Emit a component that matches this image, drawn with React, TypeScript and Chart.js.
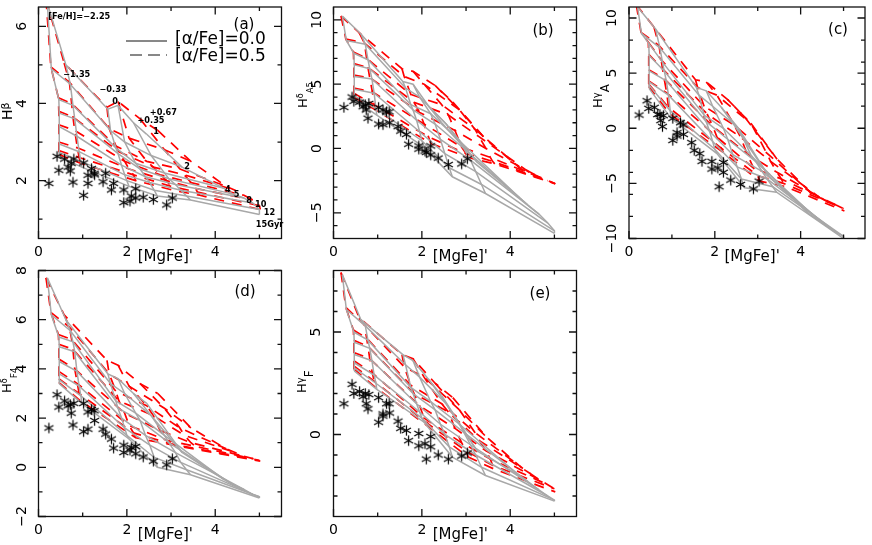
import React, { useEffect, useRef } from "react";
import { Chart, registerables } from "chart.js";

Chart.register(...registerables);

const FONT = '"DejaVu Sans"';
const GRAY = "#a8a8a8";
const RED = "#ff0000";

// [MgFe]' of every model node. One row per age (1,2,4,5,8,10,12,15 Gyr), one column per [Fe/H].
const xSolid = [
  [0.2, 0.62, 1.57, 1.8, 2.15, 2.45],
  [0.29, 0.72, 1.63, 1.95, 2.55, 3.25],
  [0.46, 0.78, 1.75, 2.2, 2.85, 4.2],
  [0.47, 0.82, 1.8, 2.3, 2.95, 4.4],
  [0.47, 0.87, 1.88, 2.42, 3.1, 4.65],
  [0.47, 0.92, 1.95, 2.52, 3.22, 4.85],
  [0.47, 0.96, 2.0, 2.62, 3.35, 5.0],
  [0.47, 0.98, 2.05, 2.69, 3.44, 5.0],
];
const xDash = [
  [0.17, 0.58, 1.55, 1.8, 2.3, 2.7],
  [0.28, 0.7, 1.6, 2.05, 2.85, 3.45],
  [0.45, 0.75, 1.75, 2.45, 3.2, 4.25],
  [0.46, 0.78, 1.82, 2.6, 3.3, 4.45],
  [0.46, 0.82, 1.95, 2.75, 3.45, 4.65],
  [0.46, 0.88, 2.05, 2.9, 3.55, 4.85],
  [0.46, 0.92, 2.15, 3.0, 3.6, 5.0],
  [0.46, 0.95, 2.2, 3.05, 3.65, 5.02],
];

const aSolid = [
  [6.6, 5.0, 3.85, 3.95, 3.5, 3.2],
  [4.9, 4.5, 3.3, 3.0, 2.65, 2.35],
  [4.1, 3.95, 2.85, 2.45, 2.2, 1.8],
  [3.75, 3.6, 2.7, 2.3, 2.05, 1.65],
  [3.4, 3.15, 2.4, 2.1, 1.9, 1.55],
  [2.95, 2.75, 2.15, 1.95, 1.75, 1.42],
  [2.73, 2.5, 2.0, 1.75, 1.6, 1.25],
  [2.62, 2.35, 1.85, 1.6, 1.5, 1.12],
];
const aDash = [
  [6.7, 5.05, 3.9, 4.05, 3.6, 3.3],
  [4.95, 4.55, 3.35, 3.1, 2.8, 2.5],
  [4.15, 4.0, 2.9, 2.5, 2.3, 1.85],
  [3.8, 3.65, 2.75, 2.35, 2.15, 1.75],
  [3.45, 3.3, 2.5, 2.15, 1.95, 1.62],
  [3.0, 2.85, 2.3, 2.0, 1.8, 1.5],
  [2.78, 2.6, 2.15, 1.85, 1.7, 1.35],
  [2.68, 2.45, 2.0, 1.75, 1.62, 1.25],
];
const bSolid = [
  [10.3, 8.9, 5.2, 5.0, 3.3, 2.0],
  [8.4, 8.1, 4.7, 4.0, 1.9, -1.06],
  [7.4, 6.9, 3.4, 2.7, 0.6, -3.8],
  [6.5, 6.2, 3.0, 1.9, 0, -4.4],
  [5.6, 5.4, 2.2, 0.7, -0.9, -5.1],
  [4.6, 4.3, 1.3, -0.4, -1.8, -5.8],
  [4.1, 3.1, 0.6, -1.5, -2.8, -6.4],
  [3.8, 2.6, 0.1, -2.2, -3.5, -6.6],
];
const bDash = [
  [10.3, 9.0, 6.2, 6.0, 4.9, 3.6],
  [8.5, 8.2, 5.6, 5.0, 3.0, 0.7],
  [7.5, 7.0, 4.2, 3.4, 1.5, -1.6],
  [6.6, 6.3, 3.6, 2.6, 0.9, -1.9],
  [5.7, 5.5, 2.8, 1.4, 0, -2.2],
  [4.7, 4.4, 1.9, 0.1, -0.7, -2.5],
  [4.3, 3.4, 0.9, -0.4, -1.0, -2.7],
  [4.0, 3.0, 0.4, -0.7, -1.2, -2.75],
];
const cSolid = [
  [11, 9.0, 3.7, 3.4, 1.9, 0.3],
  [8.6, 7.3, 3.0, 2.0, 0, -4.3],
  [7.7, 6.0, 1.2, 0, -2.5, -7.8],
  [6.6, 5.2, 0.6, -1, -3, -8.3],
  [5.2, 4.3, -0.3, -2.4, -3.9, -9],
  [4.2, 3, -1.2, -3.5, -4.6, -9.5],
  [3.9, 1.6, -1.9, -4.6, -5.3, -9.8],
  [3.6, 0.9, -2.3, -5.4, -5.8, -10],
];
const cDash = [
  [11.2, 9.2, 4.4, 4.2, 2.6, 1.0],
  [8.7, 7.5, 3.7, 3.0, 0.4, -2.8],
  [7.8, 6.2, 2.0, 0.3, -2.2, -5.9],
  [6.7, 5.4, 1.3, -0.8, -3, -6.3],
  [5.3, 4.5, 0.2, -2.3, -4, -6.7],
  [4.3, 3.2, -0.8, -3.6, -4.6, -7],
  [4.0, 1.9, -1.8, -4.3, -5, -7.3],
  [3.8, 1.3, -2.2, -4.8, -5.3, -7.5],
];
const dSolid = [
  [7.7, 6.0, 3.8, 3.6, 3.0, 2.6],
  [6.2, 5.55, 3.4, 3.0, 2.1, 0.6],
  [5.3, 5.1, 2.7, 2.2, 1.3, -0.5],
  [4.9, 4.7, 2.4, 1.9, 1, -0.7],
  [4.3, 3.9, 2, 1.3, 0.6, -0.9],
  [3.8, 3.3, 1.6, 0.9, 0.2, -1.1],
  [3.55, 2.9, 1.3, 0.4, -0.1, -1.2],
  [3.4, 2.6, 1.15, 0, -0.3, -1.25],
];
const dDash = [
  [7.7, 6.2, 4.35, 4.15, 3.4, 3.0],
  [6.3, 5.7, 3.8, 3.3, 2.4, 1.6],
  [5.4, 5.2, 3.1, 2.5, 1.6, 0.75],
  [5, 4.8, 2.7, 2.1, 1.3, 0.6],
  [4.4, 4, 2.2, 1.5, 1.0, 0.45],
  [3.9, 3.4, 1.7, 1.1, 0.85, 0.35],
  [3.6, 3, 1.4, 0.95, 0.75, 0.28],
  [3.45, 2.7, 1.2, 0.9, 0.7, 0.25],
];
const eSolid = [
  [7.8, 5.6, 3.9, 3.6, 2.7, 1.9],
  [6.1, 5.3, 3.4, 2.8, 1.5, -0.8],
  [5, 4.6, 2.3, 1.6, 0.5, -2],
  [4.5, 4.2, 2, 1.2, 0.1, -2.3],
  [3.9, 3.6, 1.5, 0.5, -0.5, -2.7],
  [3.5, 2.9, 1.1, 0, -1, -3],
  [3.25, 2.5, 0.8, -0.6, -1.6, -3.2],
  [3.1, 2.2, 0.6, -1.1, -2, -3.25],
];
const eDash = [
  [7.9, 5.7, 3.9, 3.7, 2.5, 1.8],
  [6.2, 5.35, 3.3, 2.8, 1.2, -0.1],
  [5.1, 4.7, 2.4, 1.5, 0.1, -1.6],
  [4.6, 4.3, 2, 1.1, -0.3, -1.9],
  [4, 3.7, 1.4, 0.3, -0.8, -2.2],
  [3.6, 3, 0.8, -0.4, -1.2, -2.45],
  [3.35, 2.6, 0.5, -0.8, -1.5, -2.65],
  [3.2, 2.3, 0.3, -1.1, -1.7, -2.8],
];

// Observed clusters
const starX = [0.235, 0.42, 0.46, 0.59, 0.67, 0.72, 0.74, 0.78, 0.8, 1.02, 1.02, 1.12, 1.12, 1.2, 1.26, 1.27, 1.46, 1.52, 1.65, 1.7, 1.93, 1.93, 2.07, 2.1, 2.2, 2.2, 2.37, 2.6, 2.9, 3.03];
const starA = [1.93, 2.63, 2.27, 2.56, 2.35, 2.25, 2.45, 1.96, 2.56, 2.46, 1.62, 1.93, 2.14, 2.31, 2.19, 2.15, 1.97, 2.19, 1.76, 1.93, 1.76, 1.43, 1.47, 1.6, 1.79, 1.55, 1.57, 1.51, 1.37, 1.55];
const starB = [3.2, 4.0, 3.67, 3.6, 3.25, 3.4, 3.0, 2.35, 3.5, 3.2, 1.9, 1.85, 3.0, 2.85, 2.85, 2.0, 1.7, 1.35, 1.1, 0.33, 0.2, -0.05, -0.2, -0.3, 0.2, -0.5, -0.75, -1.25, -1.2, -0.8];
const starC = [1.2, 2.5, 1.8, 1.9, 1.25, 1.25, 0.7, 0.15, 1.15, 0.9, -1.1, -0.7, -0.4, 0.5, 0.3, -0.55, -1.3, -2, -2.3, -3, -3, -3.7, -3.6, -5.3, -3.1, -4, -4.7, -5.1, -5.5, -4.8];
const starD = [1.6, 2.95, 2.45, 2.7, 2.5, 2.55, 2.2, 1.72, 2.6, 2.6, 1.45, 1.55, 2.25, 2.35, 2.3, 1.9, 1.55, 1.35, 1.15, 0.78, 0.9, 0.6, 0.7, 0.8, 0.85, 0.55, 0.42, 0.25, 0.1, 0.35];
const starE = [1.5, 2.45, 2.0, 2.1, 1.85, 2, 1.5, 1.25, 1.95, 1.8, 0.6, 0.9, 1.0, 1.5, 1.5, 1.05, 0.65, 0.3, 0.2, -0.3, 0.05, -0.55, -0.45, -1.2, -0.1, -0.6, -1.0, -1.2, -1.05, -0.9];

const xMajor = [0, 2, 4];
const xMinor = [1, 3, 5];

const gridNotes = ["[Fe/H]=\u22122.25", "\u22121.35", "\u22120.33", "0.", "+0.67", "+0.35", "1", "2", "4", "5", "8", "10", "12", "15Gyr"];
const gridNoteX = [0.22, 0.56, 1.38, 1.67, 2.52, 2.24, 2.6, 3.3, 4.22, 4.42, 4.7, 4.9, 5.1, 4.92];
const gridNoteY = [6.24, 4.75, 4.35, 4.05, 3.76, 3.55, 3.26, 2.35, 1.77, 1.62, 1.47, 1.37, 1.17, 0.86];

const legendSolid = "[\u03b1/Fe]=0.0";
const legendDash = "[\u03b1/Fe]=0.5";

type Seg = { t: string; size: number; dy: number };

const panels = [
  {
    id: "(a)", ySolid: aSolid, yDash: aDash, stars: starA, min: 0.5, max: 6.5,
    yMajor: [2, 4, 6], yMinor: [1, 3, 5], left: 0, top: 0, w: 290, h: 268, yW: 38.5, padTop: 1.5, padRight: 8.5, xH: 29.5, tickPad: 11.5,
    tagX: 244, tagY: 25, titleX: 12, titleY: 120,
    title: [{ t: "H", size: 14, dy: 0 }, { t: "\u03b2", size: 11, dy: -3 }] as Seg[],
  },
  {
    id: "(b)", ySolid: bSolid, yDash: bDash, stars: starB, min: -7, max: 11,
    yMajor: [-5, 0, 5, 10], yMinor: [-6, -4, -3, -2, -1, 1, 2, 3, 4, 6, 7, 8, 9], left: 295, top: 0, w: 290, h: 268, yW: 38.5, padTop: 1.5, padRight: 8.5, xH: 29.5, tickPad: 6.2,
    tagX: 543, tagY: 31, titleX: 307, titleY: 108,
    title: [{ t: "H", size: 13, dy: 0 }, { t: "\u03b4", size: 8, dy: -4 }, { t: "A", size: 8.5, dy: 6 }, { t: "5", size: 8.5, dy: 6 }] as Seg[],
  },
  {
    id: "(c)", ySolid: cSolid, yDash: cDash, stars: starC, min: -10, max: 11,
    yMajor: [-10, -5, 0, 5, 10], yMinor: [-8, -6, -4, -2, 2, 4, 6, 8], left: 591, top: 0, w: 281, h: 268, yW: 38, padTop: 1.5, padRight: 1, xH: 29.5, tickPad: 2.3,
    tagX: 838, tagY: 30, titleX: 602, titleY: 108,
    title: [{ t: "H", size: 13, dy: 0 }, { t: "\u03b3", size: 10, dy: -2 }, { t: "A", size: 12, dy: 7 }] as Seg[],
  },
  {
    id: "(d)", ySolid: dSolid, yDash: dDash, stars: starD, min: -2, max: 8,
    yMajor: [-2, 0, 2, 4, 6, 8], yMinor: [-1, 1, 3, 5, 7], left: 0, top: 262, w: 290, h: 283, yW: 38.5, padTop: 8.5, padRight: 8.5, xH: 28.5, tickPad: 6.2,
    tagX: 245, tagY: 292, titleX: 11, titleY: 393,
    title: [{ t: "H", size: 13, dy: 0 }, { t: "\u03b4", size: 8, dy: -4 }, { t: "F", size: 9, dy: 6 }, { t: "4", size: 9, dy: 6 }] as Seg[],
  },
  {
    id: "(e)", ySolid: eSolid, yDash: eDash, stars: starE, min: -4, max: 8,
    yMajor: [0, 5], yMinor: [-3, -2, -1, 1, 2, 3, 4, 6, 7], left: 295, top: 262, w: 290, h: 283, yW: 38.5, padTop: 8.5, padRight: 8.5, xH: 28.5, tickPad: 12.3,
    tagX: 540, tagY: 294, titleX: 306, titleY: 393,
    title: [{ t: "H", size: 13, dy: 0 }, { t: "\u03b3", size: 10, dy: -2 }, { t: "F", size: 12, dy: 7 }] as Seg[],
  },
];

function asterisk(): HTMLCanvasElement {
  const c = document.createElement("canvas");
  c.width = 13;
  c.height = 13;
  const g = c.getContext("2d")!;
  g.strokeStyle = "#000";
  g.lineWidth = 1.2;
  g.lineCap = "butt";
  for (let k = 0; k < 3; k++) {
    const a = Math.PI / 2 + (k * Math.PI) / 3;
    g.beginPath();
    g.moveTo(6.5 - 5.2 * Math.cos(a), 6.5 - 5.2 * Math.sin(a));
    g.lineTo(6.5 + 5.2 * Math.cos(a), 6.5 + 5.2 * Math.sin(a));
    g.stroke();
  }
  return c;
}

function gridLines(xs: number[][], ys: number[][], color: string, width: number, dash: number[]) {
  const base = { showLine: true, borderColor: color, borderWidth: width, borderDash: dash, pointRadius: 0, tension: 0, fill: false };
  const out: any[] = [];
  xs.forEach((row, r) => out.push({ ...base, data: row.map((x, c) => ({ x, y: ys[r][c] })) }));
  xs[0].forEach((_, c) => out.push({ ...base, data: xs.map((row, r) => ({ x: row[c], y: ys[r][c] })) }));
  return out;
}

function Panel({ p, index }: { p: (typeof panels)[number]; index: number }) {
  const ref = useRef<HTMLCanvasElement>(null);
  useEffect(() => {
    const overlay = {
      id: "frame",
      afterDraw(chart: any) {
        const g = chart.ctx;
        const { left, right, top, bottom } = chart.chartArea;
        const sx = chart.scales.x;
        const sy = chart.scales.y;
        const ox = p.left;
        const oy = p.top;
        g.save();
        g.strokeStyle = "#111";
        g.fillStyle = "#000";
        g.lineWidth = 1.3;
        g.strokeRect(left, top, right - left, bottom - top);
        const vt = (v: number, len: number) => {
          const px = sx.getPixelForValue(v);
          g.beginPath();
          g.moveTo(px, bottom);
          g.lineTo(px, bottom - len);
          g.moveTo(px, top);
          g.lineTo(px, top + len);
          g.stroke();
        };
        const ht = (v: number, len: number) => {
          const py = sy.getPixelForValue(v);
          g.beginPath();
          g.moveTo(left, py);
          g.lineTo(left + len, py);
          g.moveTo(right, py);
          g.lineTo(right - len, py);
          g.stroke();
        };
        xMajor.forEach((v) => vt(v, 7.5));
        xMinor.forEach((v) => vt(v, 4));
        p.yMajor.forEach((v) => ht(v, 7.5));
        p.yMinor.forEach((v) => ht(v, 4));

        // panel tag
        g.textAlign = "center";
        g.textBaseline = "middle";
        g.font = `15px ${FONT}`;
        g.fillText(p.id, p.tagX - ox, p.tagY - oy);

        // x title
        const xTitleCenter = sx.getPixelForValue(2.87);
        g.font = `15px ${FONT}`;
        g.fillText("[MgFe]'", xTitleCenter, bottom + 19);

        // y title with raised and lowered parts
        g.save();
        g.translate(p.titleX - ox, p.titleY - oy);
        g.rotate(-Math.PI / 2);
        g.textAlign = "left";
        g.textBaseline = "alphabetic";
        let run = 0;
        p.title.forEach((s) => {
          g.font = `${s.size}px ${FONT}`;
          g.fillText(s.t, run, s.dy);
          run += g.measureText(s.t).width;
        });
        g.restore();

        if (index === 0) {
          // grid annotations
          g.textAlign = "left";
          g.font = `bold 8.2px ${FONT}`;
          gridNotes.forEach((t, i) => {
            g.fillText(t, sx.getPixelForValue(gridNoteX[i]), sy.getPixelForValue(gridNoteY[i]));
          });
          // legend
          g.font = `17px ${FONT}`;
          g.fillText(legendSolid, 175, 40);
          g.fillText(legendDash, 175, 57);
          g.lineWidth = 1;
          g.beginPath();
          g.moveTo(126, 41);
          g.lineTo(167, 41);
          g.stroke();
          g.setLineDash([12, 6]);
          g.beginPath();
          g.moveTo(130, 55);
          g.lineTo(167, 55);
          g.stroke();
        }
        g.restore();
      },
    };

    const chart = new Chart(ref.current!, {
      type: "scatter",
      data: {
        datasets: [
          {
            data: starX.map((x, i) => ({ x, y: p.stars[i] })),
            showLine: false,
            pointStyle: asterisk() as any,
            pointRadius: 6,
          },
          ...gridLines(xSolid, p.ySolid, GRAY, 1.5, []),
          ...gridLines(xDash, p.yDash, RED, 1.7, [10, 8]),
        ],
      },
      options: {
        responsive: false,
        animation: false,
        events: [],
        layout: { padding: { top: p.padTop, right: p.padRight, left: 0, bottom: 0 } },
        plugins: { legend: { display: false }, tooltip: { enabled: false }, title: { display: false } },
        scales: {
          x: {
            type: "linear",
            min: 0,
            max: 5.5,
            grid: { display: false, drawTicks: false },
            border: { display: false },
            afterBuildTicks: (s: any) => {
              s.ticks = xMajor.map((value) => ({ value }));
            },
            afterFit: (s: any) => {
              s.height = p.xH;
              s.paddingLeft = 0;
              s.paddingRight = 0;
            },
            ticks: { color: "#000", font: { family: "DejaVu Sans", size: 14 }, padding: 5, maxRotation: 0, autoSkip: false },
          },
          y: {
            type: "linear",
            min: p.min,
            max: p.max,
            grid: { display: false, drawTicks: false },
            border: { display: false },
            afterBuildTicks: (s: any) => {
              s.ticks = p.yMajor.map((value) => ({ value }));
            },
            afterFit: (s: any) => {
              s.width = p.yW;
              s.paddingTop = 0;
              s.paddingBottom = 0;
            },
            ticks: {
              color: "#000",
              font: { family: "DejaVu Sans", size: 14 },
              padding: p.tickPad,
              minRotation: 90,
              maxRotation: 90,
              crossAlign: "center",
              autoSkip: false,
              callback: (v: any) => String(v).replace("-", "\u2212"),
            },
          },
        },
      } as any,
      plugins: [overlay],
    });
    return () => chart.destroy();
  }, []);
  return (
    <canvas
      ref={ref}
      width={p.w}
      height={p.h}
      style={{ position: "absolute", left: p.left, top: p.top, width: p.w, height: p.h, display: "block" }}
    />
  );
}

export default function App() {
  return (
    <div style={{ position: "fixed", left: 0, top: 0, width: 872, height: 545, background: "#fff", overflow: "hidden", filter: "blur(0.35px)" }}>
      {panels.map((p, i) => (
        <Panel key={p.id} p={p} index={i} />
      ))}
    </div>
  );
}
